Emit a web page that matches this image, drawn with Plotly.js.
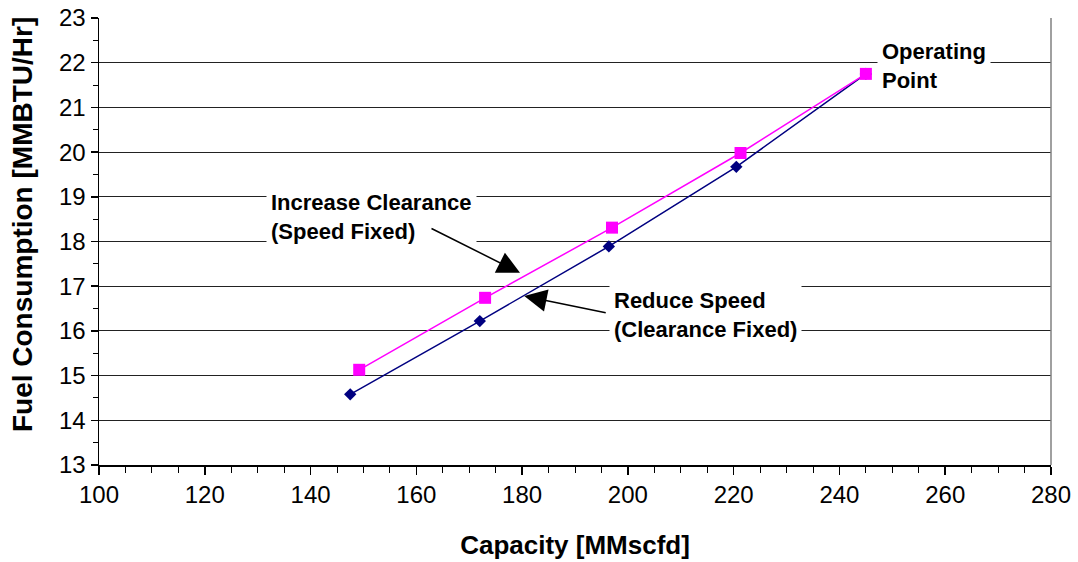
<!DOCTYPE html>
<html>
<head>
<meta charset="utf-8">
<script src="https://cdn.plot.ly/plotly-3.0.1.min.js"></script>
<style>html,body{margin:0;padding:0;background:#fff;}#chart{width:1078px;height:562px;}</style>
</head>
<body>
<div id="chart"></div>
<script>
// Reduce Speed (Clearance Fixed)
const speedCapacity = [147.5, 172.0, 196.4, 220.5, 245.0];
const speedFuel = [14.58, 16.22, 17.89, 19.67, 21.75];
// Increase Clearance (Speed Fixed)
const clearanceCapacity = [149.2, 173.0, 197.0, 221.3, 245.0];
const clearanceFuel = [15.13, 16.74, 18.31, 19.98, 21.75];

const xTitle = 'Capacity [MMscfd]';
const yTitle = 'Fuel Consumption [MMBTU/Hr]';

const FONT = 'Liberation Sans, Arial, sans-serif';

const traces = [
  {
    x: speedCapacity, y: speedFuel, mode: 'lines+markers', name: 'Reduce Speed',
    line: {color: '#000080', width: 1.5},
    marker: {symbol: 'diamond', size: 9.5, color: '#000080'}
  },
  {
    x: clearanceCapacity, y: clearanceFuel, mode: 'lines+markers', name: 'Increase Clearance',
    line: {color: '#FF00FF', width: 1.5},
    marker: {symbol: 'square', size: 12, color: '#FF00FF'}
  }
];

const textFont = {family: FONT, size: 22, color: '#000', weight: 'bold'};

const layout = {
  width: 1078, height: 562,
  margin: {l: 99, r: 27, t: 18, b: 97},
  paper_bgcolor: '#fff', plot_bgcolor: '#fff',
  showlegend: false,
  font: {family: FONT, color: '#000'},
  xaxis: {
    range: [100, 280], dtick: 20, tick0: 100,
    showgrid: false, zeroline: false,
    showline: true, linecolor: '#000', linewidth: 1.5,
    ticks: 'outside', ticklen: 8, tickwidth: 1.5, tickcolor: '#000',
    minor: {dtick: 5, ticks: 'outside', ticklen: 6, tickwidth: 1, tickcolor: '#000', showgrid: false},
    tickfont: {family: FONT, size: 24, color: '#000'},
    title: {text: xTitle, font: {family: FONT, size: 26, color: '#000', weight: 'bold'}, standoff: 28}
  },
  yaxis: {
    range: [13, 23], dtick: 1, tick0: 13,
    showgrid: true, gridcolor: '#222', gridwidth: 1, zeroline: false,
    showline: true, linecolor: '#000', linewidth: 1.5,
    ticks: 'outside', ticklen: 7, tickwidth: 1.5, tickcolor: '#000',
    minor: {dtick: 0.5, ticks: 'outside', ticklen: 5, tickwidth: 1, tickcolor: '#000', showgrid: false},
    tickfont: {family: FONT, size: 24, color: '#000'}
  },
  shapes: [
    {type: 'line', xref: 'paper', yref: 'paper', x0: 1, x1: 1, y0: 0, y1: 1, line: {color: '#808080', width: 1.5}}
  ],
  annotations: [
    {xref: 'paper', yref: 'paper', x: -0.0809, y: 0.539, text: yTitle, textangle: -90, showarrow: false,
     xanchor: 'center', yanchor: 'middle', font: {family: FONT, size: 28, color: '#000', weight: 'bold'}},
    {xref: 'x', yref: 'y', x: 151.6, y: 18.55, text: 'Increase Clearance<br>(Speed Fixed)', showarrow: false,
     align: 'left', bgcolor: '#fff', borderpad: 4, font: textFont},
    {xref: 'x', yref: 'y', x: 214.6, y: 16.36, text: 'Reduce Speed<br>(Clearance Fixed)', showarrow: false,
     align: 'left', bgcolor: '#fff', borderpad: 4, font: textFont},
    {xref: 'x', yref: 'y', x: 257.9, y: 21.93, text: 'Operating<br>Point', showarrow: false,
     align: 'left', bgcolor: '#fff', borderpad: 4, font: textFont},
    {xref: 'x', yref: 'y', x: 179.6, y: 17.3, text: '', showarrow: true, ax: -90, ay: -45,
     arrowhead: 2, arrowsize: 3, arrowwidth: 1.5, arrowcolor: '#000', standoff: 0},
    {xref: 'x', yref: 'y', x: 180.4, y: 16.78, text: '', showarrow: true, ax: 83, ay: 17,
     arrowhead: 2, arrowsize: 3, arrowwidth: 1.5, arrowcolor: '#000', standoff: 0}
  ]
};

Plotly.newPlot('chart', traces, layout, {displayModeBar: false, staticPlot: true});
</script>
</body>
</html>
